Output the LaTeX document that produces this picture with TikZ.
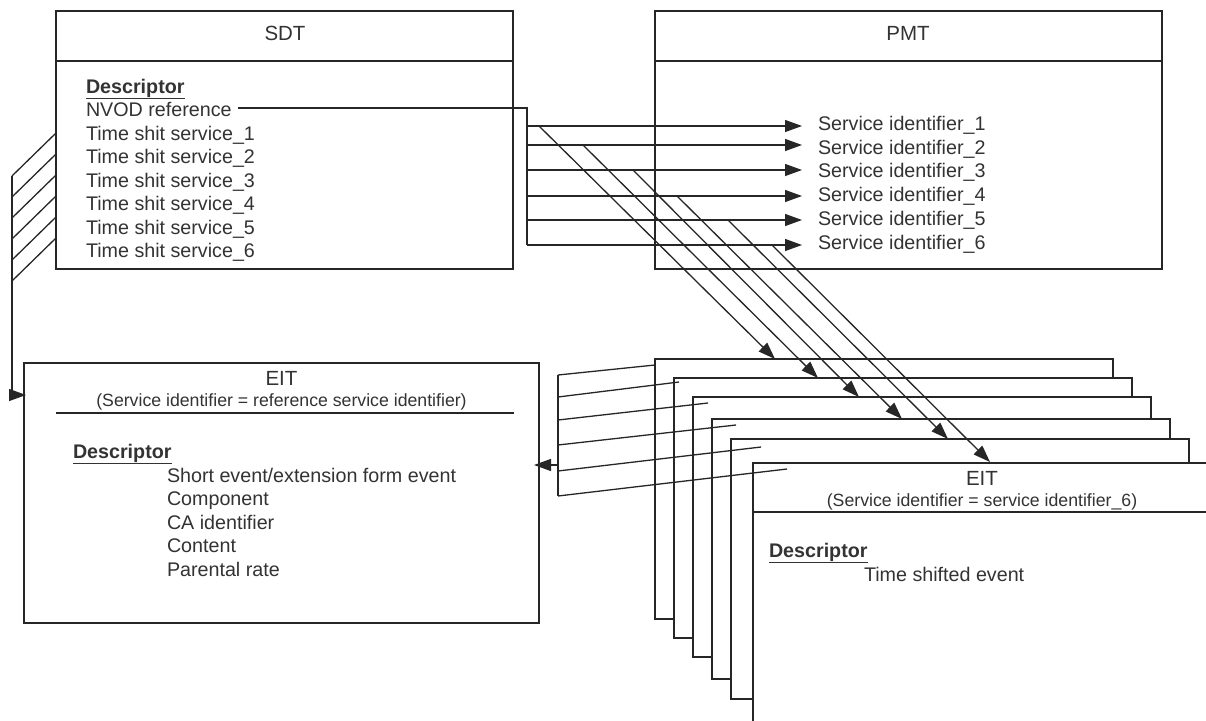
\documentclass[tikz,border=0pt]{standalone}
\usepackage{fontspec}
\setmainfont{Liberation Sans}
\usetikzlibrary{arrows.meta}
\begin{document}
\begin{tikzpicture}[x=1pt,y=-1pt,
  ln/.style={line width=1.3pt, draw=black!85},
  box/.style={ln, rectangle, fill=white, inner sep=0pt, outer sep=0pt, anchor=north west},
  txt/.style={inner sep=0pt, outer sep=0pt, text=black!80, font=\fontsize{19.7}{23}\selectfont, anchor=base west},
  ttl/.style={inner sep=0pt, outer sep=0pt, text=black!80, font=\fontsize{20.5}{24}\selectfont, anchor=base},
  sub/.style={inner sep=0pt, outer sep=0pt, text=black!80, font=\fontsize{17.7}{21}\selectfont, anchor=base},
  arr/.style={ln, -{Triangle[length=17pt,width=12pt]}},
  stk/.style={box, minimum width=458pt, minimum height=260pt},
]
\useasboundingbox (0,0) rectangle (1206,720);

% ---------- SDT ----------
\node[box, minimum width=457pt, minimum height=258pt] (sdt) at (56,11) {};
\draw[ln] (56,61) -- (513,61);
\node[ttl] (sdtT) at (285,40) {SDT};
\node[txt] (sdtD) at (86,93) {\underline{\textbf{Descriptor}}};
\node[txt] (nvod) at (86,116) {NVOD reference};
\node[txt] (ts1) at (86,140) {Time shit service\_1};
\node[txt] (ts2) at (86,163.5) {Time shit service\_2};
\node[txt] (ts3) at (86,187) {Time shit service\_3};
\node[txt] (ts4) at (86,210.5) {Time shit service\_4};
\node[txt] (ts5) at (86,234) {Time shit service\_5};
\node[txt] (ts6) at (86,257.5) {Time shit service\_6};

% ---------- PMT ----------
\node[box, minimum width=507pt, minimum height=258pt] (pmt) at (655,11) {};
\draw[ln] (655,61) -- (1162,61);
\node[ttl] (pmtT) at (908,40) {PMT};
\node[txt] (si1) at (818,130) {Service identifier\_1};
\node[txt] (si2) at (818,154) {Service identifier\_2};
\node[txt] (si3) at (818,177) {Service identifier\_3};
\node[txt] (si4) at (818,201) {Service identifier\_4};
\node[txt] (si5) at (818,225) {Service identifier\_5};
\node[txt] (si6) at (818,249) {Service identifier\_6};

% ---------- left EIT ----------
\node[box, minimum width=515pt, minimum height=260pt] (eitL) at (24,363) {};
\node[ttl] (eitLT) at (281.5,385) {EIT};
\node[sub] (eitLS) at (281.5,406) {(Service identifier = reference service identifier)};
\draw[ln] (56,413) -- (514,413);
\node[txt] (eitLD) at (73,458) {\underline{\textbf{Descriptor}}};
\node[txt] (e1) at (167,482) {Short event/extension form event};
\node[txt] (e2) at (167,505) {Component};
\node[txt] (e3) at (167,529) {CA identifier};
\node[txt] (e4) at (167,552) {Content};
\node[txt] (e5) at (167,576) {Parental rate};

% ---------- stacked EITs ----------
\node[stk] (b1) at (655,359) {};
\node[stk] (b2) at (674,378) {};
\node[stk] (b3) at (693,397) {};
\node[stk] (b4) at (712,419) {};
\node[stk] (b5) at (731,439) {};
\node[stk] (b6) at (753,463) {};
\draw[ln] (753,512) -- (1211,512);
\node[ttl] (eitFT) at (982,485) {EIT};
\node[sub] (eitFS) at (982,506) {(Service identifier = service identifier\_6)};
\node[txt] (eitFD) at (769,557) {\underline{\textbf{Descriptor}}};
\node[txt] (f1) at (864,581) {Time shifted event};

% ---------- coordinates ----------
\coordinate (nv0) at (238,108);
\coordinate (bus) at (527,108);
\coordinate (busE) at (527,245);
\foreach \i/\y in {1/126,2/145,3/170,4/196,5/220,6/245}{
  \coordinate (h\i) at (527,\y);
  \coordinate (hT\i) at (802,\y);
}
\coordinate (d1) at (539,126); \coordinate (dT1) at (775,359);
\coordinate (d2) at (583,145); \coordinate (dT2) at (818,378);
\coordinate (d3) at (633,170); \coordinate (dT3) at (859,397);
\coordinate (d4) at (677,196); \coordinate (dT4) at (902,419);
\coordinate (d5) at (728,220); \coordinate (dT5) at (948,439);
\coordinate (d6) at (772,245); \coordinate (dT6) at (990,462);

% ---------- connectors ----------
\draw[ln] (nv0) -- (bus) -- (busE);
\foreach \i in {1,...,6}{
  \draw[arr] (h\i) -- (hT\i);
  \draw[arr] (d\i) -- (dT\i);
}

% left bracket
\foreach \k in {0,...,5}{
  \coordinate (ls\k) at (56,{133+21*\k});
  \coordinate (le\k) at (12,{176+21*\k});
  \draw[ln] (ls\k) -- (le\k);
}
\coordinate (lv) at (12,395);
\coordinate (lvT) at (26,395);
\draw[ln] (le0) -- (lv);
\draw[arr] (lv) -- (lvT);

% right bracket
\coordinate (rv0) at (558,375);
\coordinate (rv1) at (558,496);
\draw[ln] (rv0) -- (rv1);
\coordinate (r1) at (558,375); \coordinate (rE1) at (655,365);
\coordinate (r2) at (558,397); \coordinate (rE2) at (679,382);
\coordinate (r3) at (558,420); \coordinate (rE3) at (708,403);
\coordinate (r4) at (558,445); \coordinate (rE4) at (736,425);
\coordinate (r5) at (558,471); \coordinate (rE5) at (761,447);
\coordinate (r6) at (558,496); \coordinate (rE6) at (787,469);
\foreach \i in {1,...,6}{ \draw[ln] (r\i) -- (rE\i); }
\coordinate (ra) at (558,465);
\coordinate (raT) at (534,465);
\draw[arr] (ra) -- (raT);
\end{tikzpicture}
\end{document}
